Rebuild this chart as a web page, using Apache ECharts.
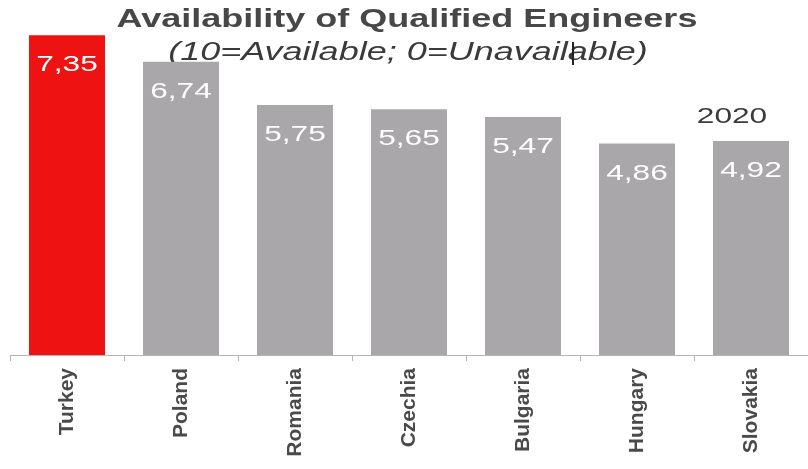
<!DOCTYPE html>
<html>
<head>
<meta charset="utf-8">
<script src="https://cdn.jsdelivr.net/npm/echarts@6/dist/echarts.min.js"></script>
<style>
  html, body { margin: 0; padding: 0; background: #fff; }
  #chart { width: 808px; height: 469px; }
</style>
</head>
<body>
<div id="chart"></div>
<script>
const countries = ['Turkey', 'Poland', 'Romania', 'Czechia', 'Bulgaria', 'Hungary', 'Slovakia'];
const scores = [7.35, 6.74, 5.75, 5.65, 5.47, 4.86, 4.92];
const highlight = 'Turkey';

// the source picture is stretched sideways, so text is widened to match
const stretch = 1.44;
const fmt = v => v.toFixed(2).replace('.', ',');

const chart = echarts.init(document.getElementById('chart'));

const option = {
  animation: false,
  grid: {
    left: 10,
    right: 0,
    top: 7,
    bottom: 114
  },
  xAxis: {
    type: 'category',
    data: countries,
    axisLine: { lineStyle: { color: '#b5b5b5', width: 1 } },
    axisTick: { show: true, length: 6, lineStyle: { color: '#b5b5b5' } },
    axisLabel: {
      rotate: 90,
      margin: 13,
      fontFamily: 'Liberation Sans',
      fontSize: 21,
      fontWeight: 'bold',
      color: '#4a4a4a'
    }
  },
  yAxis: {
    type: 'value',
    min: 0,
    max: 8,
    show: false
  },
  series: [
    {
      type: 'bar',
      barWidth: 76,
      data: scores.map((v, i) => ({
        value: v,
        itemStyle: { color: countries[i] === highlight ? '#ee1212' : '#a9a7aa' }
      }))
    },
    {
      // value labels, drawn wide like the source
      type: 'custom',
      z: 5,
      data: scores.map((v, i) => [i, v]),
      encode: { x: 0, y: 1 },
      renderItem: (params, api) => {
        const p = api.coord([api.value(0), api.value(1)]);
        return {
          type: 'text',
          x: p[0],
          y: p[1] + 30,
          scaleX: stretch,
          style: {
            text: fmt(api.value(1)),
            fontFamily: 'Liberation Sans',
            fontSize: 22,
            fill: '#ffffff',
            align: 'center',
            verticalAlign: 'middle'
          }
        };
      }
    }
  ],
  graphic: [
    {
      type: 'text',
      x: 407,
      y: 20,
      scaleX: stretch,
      style: {
        text: 'Availability of Qualified Engineers',
        fontFamily: 'Liberation Sans',
        fontSize: 25,
        fontWeight: 'bold',
        fill: '#474747',
        align: 'center',
        verticalAlign: 'middle'
      }
    },
    {
      type: 'text',
      x: 408,
      y: 53,
      scaleX: stretch,
      style: {
        text: '(10=Available; 0=Unavailable)',
        fontFamily: 'Liberation Sans',
        fontSize: 25,
        fontStyle: 'italic',
        fill: '#3a3a3a',
        align: 'center',
        verticalAlign: 'middle'
      }
    },
    {
      type: 'text',
      x: 732,
      y: 117,
      scaleX: stretch,
      style: {
        text: '2020',
        fontFamily: 'Liberation Sans',
        fontSize: 22,
        fill: '#3a3a3a',
        align: 'center',
        verticalAlign: 'middle'
      }
    },
    {
      type: 'line',
      shape: { x1: 573, y1: 42, x2: 573, y2: 65 },
      style: { stroke: '#222', lineWidth: 2 }
    }
  ]
};

chart.setOption(option);
</script>
</body>
</html>
